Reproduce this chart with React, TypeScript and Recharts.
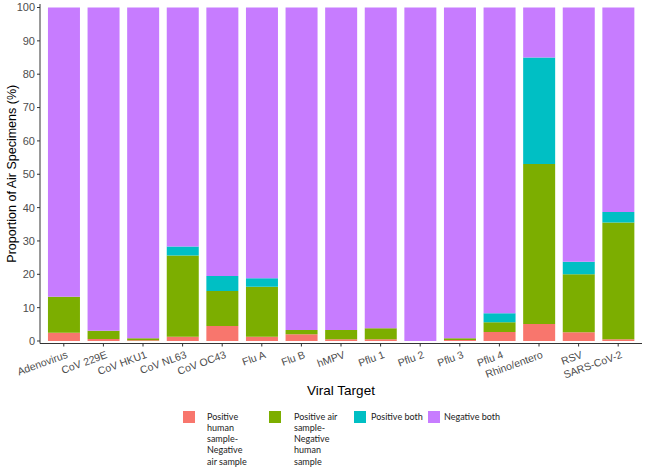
import { BarChart, Bar, XAxis, YAxis, Legend } from 'recharts';

// viral targets and the share of air specimens in each outcome group (%)
const targets = [
  'Adenovirus', 'CoV 229E', 'CoV HKU1', 'CoV NL63', 'CoV OC43', 'Flu A', 'Flu B', 'hMPV',
  'Pflu 1', 'Pflu 2', 'Pflu 3', 'Pflu 4', 'Rhino/entero', 'RSV', 'SARS-CoV-2',
];
const posHumanNegAir = [2.5, 0.6, 0.2, 1.3, 4.5, 1.3, 2.0, 0.5, 0.5, 0, 0.3, 2.7, 5.1, 2.6, 0.5];
const posAirNegHuman = [10.8, 2.5, 0.6, 24.3, 10.5, 15.0, 1.3, 2.8, 3.3, 0, 0.5, 2.9, 48.0, 17.4, 35.0];
const posBoth = [0, 0, 0, 2.7, 4.5, 2.5, 0, 0, 0, 0, 0, 2.7, 31.9, 3.8, 3.2];
const negBoth = [86.7, 96.9, 99.2, 71.7, 80.5, 81.2, 96.7, 96.7, 96.2, 100, 99.2, 91.7, 15.0, 76.2, 61.3];
const yTicks = [0, 10, 20, 30, 40, 50, 60, 70, 80, 90, 100];

const series = [
  { key: 'posHumanNegAir', name: 'Positive\nhuman\nsample-\nNegative\nair sample', color: '#F8766D' },
  { key: 'posAirNegHuman', name: 'Positive air\nsample-\nNegative\nhuman\nsample', color: '#7CAE00' },
  { key: 'posBoth', name: 'Positive both', color: '#00BFC4' },
  { key: 'negBoth', name: 'Negative both', color: '#C77CFF' },
];

const data = targets.map((t, i) => ({
  target: t,
  posHumanNegAir: posHumanNegAir[i],
  posAirNegHuman: posAirNegHuman[i],
  posBoth: posBoth[i],
  negBoth: negBoth[i],
}));

const axisFont = '"Liberation Sans", Arial, sans-serif';

const XTick = ({ x, y, payload }: any) => (
  <text
    x={x + 2}
    y={y}
    dy="0.71em"
    textAnchor="end"
    transform={`rotate(-20 ${x + 2} ${y})`}
    fontSize={10.5}
    fontFamily={axisFont}
    fill="#4d4d4d"
  >
    {payload.value}
  </text>
);

const YLabel = ({ viewBox }: any) => {
  const cx = 12;
  const cy = viewBox.y + viewBox.height / 2;
  return (
    <text
      x={cx}
      y={cy}
      textAnchor="middle"
      dominantBaseline="central"
      transform={`rotate(-90 ${cx} ${cy})`}
      fontSize={12.5}
      fontFamily={axisFont}
      fill="#000"
    >
      Proportion of Air Specimens (%)
    </text>
  );
};

// key / text x positions for the legend items
const keyLeft = [183, 269, 354, 428];
const textLeft = [207, 294, 371, 444];

const LegendBox = () => (
  <div style={{ position: 'relative', width: 650, height: 68 }}>
    {series.map((s, i) => (
      <div key={s.key}>
        <div
          style={{
            position: 'absolute', left: keyLeft[i], top: 6, width: 12, height: 12,
            background: s.color,
          }}
        />
        <div
          style={{
            position: 'absolute', left: textLeft[i], top: 5.5, whiteSpace: 'pre-line',
            fontSize: 9, lineHeight: '11.3px', fontFamily: 'Lato, "Noto Sans", sans-serif',
            color: '#222', textAlign: 'left',
          }}
        >
          {s.name}
        </div>
      </div>
    ))}
  </div>
);

export default function App() {
  return (
    <div style={{ position: 'absolute', left: 0, top: 0, width: 650, height: 473, background: '#fff' }}>
      <BarChart
        width={650}
        height={473}
        data={data}
        barCategoryGap="10%"
        margin={{ top: 4, right: 8, left: 0, bottom: 0 }}
      >
        <XAxis
          dataKey="target"
          interval={0}
          height={61.5}
          padding={{ left: 4, right: 4 }}
          tickSize={3}
          tickMargin={4}
          tick={<XTick />}
          stroke="#333"
          label={{ value: 'Viral Target', position: 'insideBottom', offset: 10, fontSize: 13.5, fill: '#000', fontFamily: axisFont }}
        />
        <YAxis
          width={40}
          domain={[-0.75, 101.05]}
          ticks={yTicks}
          interval={0}
          tickSize={3}
          tickMargin={2}
          stroke="#333"
          tick={{ fontSize: 11, fill: '#4d4d4d', fontFamily: axisFont }}
          label={<YLabel />}
        />
        <Legend
          verticalAlign="bottom"
          content={<LegendBox />}
          wrapperStyle={{ left: 0, width: 650, height: 68 }}
        />
        {series.map((s) => (
          <Bar key={s.key} dataKey={s.key} name={s.name} stackId="a" fill={s.color} isAnimationActive={false} />
        ))}
      </BarChart>
    </div>
  );
}
